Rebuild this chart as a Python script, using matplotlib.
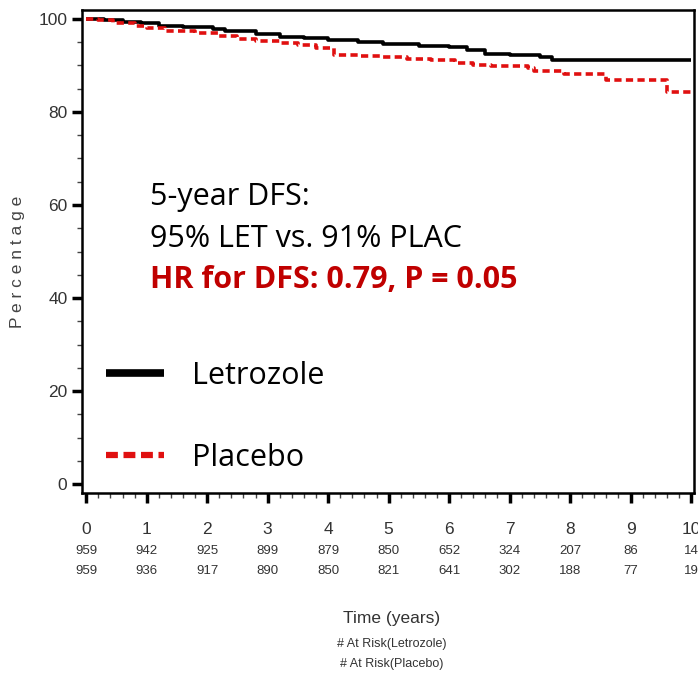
import numpy as np
import matplotlib
matplotlib.use("Agg")
import matplotlib.pyplot as plt
from matplotlib.lines import Line2D
from matplotlib.ticker import MultipleLocator

# Kaplan-Meier style DFS curves
let_t = [0, 0.3, 0.6, 0.9, 1.2, 1.6, 2.1, 2.3, 2.8, 3.2, 3.6, 4.0, 4.5, 4.9, 5.5, 6.0, 6.3, 6.6, 7.0, 7.5, 7.7, 10.0]
let_v = [100, 99.8, 99.4, 99.0, 98.4, 98.2, 97.9, 97.4, 96.8, 96.2, 95.9, 95.5, 95.1, 94.6, 94.2, 93.9, 93.2, 92.5, 92.2, 91.9, 91.1, 91.1]

plac_t = [0, 0.2, 0.45, 0.8, 1.0, 1.3, 1.8, 2.2, 2.5, 2.8, 3.2, 3.5, 3.8, 4.1, 4.5, 4.9, 5.3, 5.7, 6.1, 6.4, 6.7, 7.3, 7.4, 7.9, 8.6, 9.6, 10.0]
plac_v = [100, 99.7, 99.1, 98.4, 98.0, 97.4, 96.9, 96.4, 95.7, 95.3, 94.8, 94.3, 93.7, 92.2, 92.0, 91.7, 91.4, 91.2, 90.6, 90.1, 89.8, 89.4, 88.8, 88.2, 86.8, 84.2, 84.2]

years = list(range(11))
risk_let = [959, 942, 925, 899, 879, 850, 652, 324, 207, 86, 14]
risk_plac = [959, 936, 917, 890, 850, 821, 641, 302, 188, 77, 19]

W, H = 698, 676
tickfont = "Liberation Sans"
calib = "Open Sans"

fig = plt.figure(figsize=(W / 100, H / 100), dpi=100)
ax = fig.add_axes([82 / W, 1 - 493 / H, (694 - 82) / W, (493 - 10) / H])

ax.step(let_t, let_v, where="post", color="black", lw=2.6, solid_capstyle="butt")
ax.step(plac_t, plac_v, where="post", color="#e01010", lw=2.6, dashes=(2.0, 1.2))

ax.set_xlim(-0.07, 10.05)
ax.set_ylim(-1.9, 101.9)
ax.xaxis.set_major_locator(MultipleLocator(1))
ax.xaxis.set_minor_locator(MultipleLocator(0.2))
ax.yaxis.set_major_locator(MultipleLocator(20))
ax.yaxis.set_minor_locator(MultipleLocator(5))
ax.tick_params(which="major", direction="out", length=7, width=2.5, colors="black")
ax.tick_params(which="minor", direction="out", length=3.5, width=1, colors="#444444")
ax.tick_params(axis="x", which="major", pad=14)
for lab in ax.get_xticklabels() + ax.get_yticklabels():
    lab.set_fontfamily(tickfont)
    lab.set_fontsize(12.5)
    lab.set_color("#333333")
for s in ax.spines.values():
    s.set_linewidth(1.8)

# number at risk rows
tr = ax.get_xaxis_transform()
for x, a, b in zip(years, risk_let, risk_plac):
    ax.text(x, -0.120, str(a), transform=tr, ha="center", va="center",
            fontsize=9.5, family=tickfont, color="#333333")
    ax.text(x, -0.162, str(b), transform=tr, ha="center", va="center",
            fontsize=9.5, family=tickfont, color="#333333")

fig.text(392 / W, 1 - 618 / H, "Time (years)", ha="center", va="center",
         fontsize=12.5, family=tickfont, color="#333333")
fig.text(392 / W, 1 - 644 / H, "# At Risk(Letrozole)", ha="center", va="center",
         fontsize=9, family=tickfont, color="#333333")
fig.text(392 / W, 1 - 664 / H, "# At Risk(Placebo)", ha="center", va="center",
         fontsize=9, family=tickfont, color="#333333")
fig.text(18 / W, 1 - 262 / H, "P e r c e n t a g e", rotation=90, ha="center", va="center",
         fontsize=12.5, family=tickfont, color="#444444")

# annotations
fig.text(150 / W, 1 - 205 / H, "5-year DFS:", ha="left", va="baseline",
         fontsize=22, family=calib, color="black")
fig.text(150 / W, 1 - 247 / H, "95% LET vs. 91% PLAC", ha="left", va="baseline",
         fontsize=22, family=calib, color="black")
fig.text(150 / W, 1 - 288 / H, "HR for DFS: 0.79, P = 0.05", ha="left", va="baseline",
         fontsize=22, family=calib, weight="bold", color="#c00000")

handles = [Line2D([], [], color="black", lw=5.5, solid_capstyle="butt"),
           Line2D([], [], color="#e01010", lw=4.5, dashes=(1.9, 0.9))]
leg = ax.legend(handles, ["Letrozole", "Placebo"], loc="upper left",
                bbox_to_anchor=(-0.005, 0.331), frameon=False, handlelength=1.9,
                handletextpad=0.9, labelspacing=1.72, prop={"family": calib, "size": 22})

fig.savefig("out.png", dpi=100)
